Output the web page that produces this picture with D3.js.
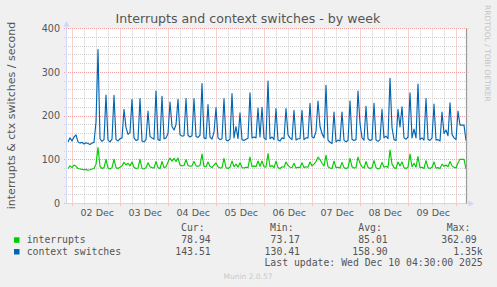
<!DOCTYPE html>
<html><head><meta charset="utf-8">
<script src="https://cdn.jsdelivr.net/npm/d3@7"></script>
<style>
html,body{margin:0;padding:0;background:#F0F0F0;}
svg{display:block;}
</style></head><body>
<svg id="chart" width="497" height="287"></svg>
<script>
// ---- data (hourly samples, first sample at Dec 1 21:45) ----
const startTime = new Date(2025, 11, 1, 21, 45);
const stepHours = 1;
const interrupts = [
80,86,82,88,85,80,79,78,77,78,76,77,79,80,90,128,85,80,82,101,
81,79,82,101,82,80,83,86,94,88,92,86,95,83,80,81,101,80,79,82,
93,84,82,81,96,82,80,96,82,84,95,104,97,103,96,104,88,86,87,100,
87,85,86,96,86,85,87,113,85,84,95,85,82,88,93,84,81,82,103,82,
80,83,97,84,90,83,93,82,81,83,82,106,84,86,84,97,85,97,84,83,
114,84,87,82,97,82,80,84,83,95,87,83,82,92,81,83,82,93,82,84,
83,95,86,90,96,106,100,92,86,110,84,81,80,97,82,83,81,94,82,80,
82,103,84,81,82,106,92,84,81,96,83,80,82,98,82,79,81,94,83,85,
82,122,90,82,80,95,86,95,82,80,83,113,84,92,83,107,82,83,80,98,
82,80,83,95,81,82,80,90,85,88,84,96,86,83,81,93,101,101,101,79
];
const contextSwitches = [
141,150,143,152,157,141,138,140,136,139,137,135,138,140,186,352,148,142,146,248,
145,141,147,247,146,143,148,150,215,174,158,162,238,150,144,146,240,143,141,146,
211,153,150,147,257,146,144,245,148,150,160,232,176,168,180,238,157,154,155,240,
156,152,155,240,153,151,156,274,150,148,226,152,147,163,219,150,146,148,240,145,
143,147,251,150,176,148,207,146,144,147,149,253,150,152,150,218,152,220,150,146,
280,148,152,146,217,145,143,150,148,217,157,150,146,213,145,148,148,213,146,150,
150,229,152,150,165,234,176,160,150,270,145,140,137,209,141,145,143,209,145,141,
144,234,147,144,146,257,183,150,145,222,148,144,146,229,145,142,146,215,150,154,
148,286,174,146,144,215,175,221,150,147,152,253,150,170,150,273,146,150,145,240,
147,144,150,227,145,146,143,209,160,168,155,230,158,150,146,211,179,179,179,143.5
];
const seriesNames = ["interrupts", "context switches"];
const seriesColors = ["#00CC00", "#0066B3"];
const xTickLabels = ["02 Dec","03 Dec","04 Dec","05 Dec","06 Dec","07 Dec","08 Dec","09 Dec"];
const yTicks = [0, 100, 200, 300, 400];
const legendHeaders = ["Cur:", "Min:", "Avg:", "Max:"];
const legendInterrupts = ["78.94", "73.17", "85.01", "362.09"];
const legendContext = ["143.51", "130.41", "158.90", "1.35k"];
const titleText = "Interrupts and context switches - by week";
const yLabelText = "interrupts & ctx switches / second";
const lastUpdateText = "Last update: Wed Dec 10 04:30:00 2025";
const footerText = "Munin 2.0.57";
const sideText = "RRDTOOL / TOBI OETIKER";

// ---- layout ----
const svg = d3.select("#chart");
const L = 66.5, R = 466.5, T = 28.5, B = 203.5;
const x = d3.scaleTime()
  .domain([new Date(2025, 11, 1, 21, 0), new Date(2025, 11, 10, 5, 0)])
  .range([L, R]);
const y = d3.scaleLinear().domain([0, 400]).range([B, T]);
const snap = v => Math.floor(v) + 0.5;

svg.append("rect").attr("x", 0).attr("y", 0).attr("width", 497).attr("height", 287).attr("fill", "#F0F0F0");
svg.append("rect").attr("x", L).attr("y", T).attr("width", R - L).attr("height", B - T).attr("fill", "#FFFFFF");

const minorC = "#CFCFCF", majorC = "#F2A0A0";
const g = svg.append("g");
// vertical grid
const minorTimes = d3.timeHour.every(6).range(x.domain()[0], x.domain()[1]);
minorTimes.forEach(t => {
  const major = t.getHours() === 0;
  const px = snap(x(t));
  g.append("line").attr("x1", px).attr("x2", px).attr("y1", T).attr("y2", B + 2.5)
    .attr("stroke", major ? majorC : minorC).attr("stroke-width", 1)
    .attr("stroke-dasharray", "1,1");
});
// horizontal grid
d3.range(0, 401, 20).forEach(v => {
  const major = v % 100 === 0;
  const py = snap(y(v));
  g.append("line").attr("x1", L - 2.5).attr("x2", R + 2).attr("y1", py).attr("y2", py)
    .attr("stroke", major ? majorC : minorC).attr("stroke-width", 1)
    .attr("stroke-dasharray", "1,1");
});

// series
const timeOf = i => new Date(startTime.getTime() + i * stepHours * 3600e3);
const line = d3.line().x((d, i) => x(timeOf(i))).y(d => y(d));
const clip = svg.append("clipPath").attr("id", "pc").append("rect")
  .attr("x", L).attr("y", T - 5).attr("width", R - L).attr("height", B - T + 5);
[interrupts, contextSwitches].forEach((arr, k) => {
  svg.append("path").datum(arr).attr("d", line)
    .attr("fill", "none").attr("stroke", seriesColors[k]).attr("stroke-width", 1.15)
    .attr("stroke-linejoin", "round").attr("clip-path", "url(#pc)");
});

// axes lines & arrows
const axisC = "#CFD6F8";
svg.append("line").attr("x1", L).attr("x2", L).attr("y1", B).attr("y2", T - 4)
  .attr("stroke", axisC).attr("stroke-width", 1);
svg.append("line").attr("x1", L).attr("x2", R + 4).attr("y1", B).attr("y2", B)
  .attr("stroke", axisC).attr("stroke-width", 1);
svg.append("path").attr("d", `M${L-3},${T-2} L${L+3},${T-2} L${L},${T-7.5} Z`).attr("fill", axisC);
svg.append("path").attr("d", `M${R+2},${B-3} L${R+2},${B+3} L${R+7.5},${B} Z`).attr("fill", axisC);
// right frame line
svg.append("line").attr("x1", R).attr("x2", R).attr("y1", T).attr("y2", B)
  .attr("stroke", "#9A9A9A").attr("stroke-width", 1.2);

// y tick labels
const fontC = "#555";
svg.append("g").selectAll("text").data(yTicks).join("text")
  .attr("x", 60).attr("y", d => y(d) + 3.4)
  .attr("text-anchor", "end").attr("font-family", "DejaVu Sans").attr("font-size", 9.6)
  .attr("fill", fontC).text(d => d);

// x tick labels (centered on noon of each day)
svg.append("g").selectAll("text").data(xTickLabels).join("text")
  .attr("x", (d, i) => x(new Date(2025, 11, 2 + i, 12, 0)) + 0.8)
  .attr("y", 216)
  .attr("text-anchor", "middle").attr("font-family", "DejaVu Sans").attr("font-size", 9.5)
  .attr("fill", fontC).text(d => d);

// title
svg.append("text").attr("x", 248).attr("y", 23).attr("text-anchor", "middle")
  .attr("font-family", "DejaVu Sans").attr("font-size", 12.6).attr("fill", "#555")
  .text(titleText);

// y label
svg.append("text").attr("transform", "translate(14.5,115.5) rotate(-90)")
  .attr("text-anchor", "middle").attr("font-family", "DejaVu Sans").attr("font-size", 11)
  .attr("fill", fontC).text(yLabelText);

// side text
svg.append("text").attr("transform", "translate(485,5) rotate(90)")
  .attr("text-anchor", "start").attr("font-family", "DejaVu Sans").attr("font-size", 7.5)
  .attr("fill", "#C4C4C4").text(sideText);

// legend
const mono = "DejaVu Sans Mono", lfs = 9.8, cw = 5.93, col0 = 26.7;
const lg = svg.append("g").attr("font-family", mono).attr("font-size", lfs).attr("fill", "#555")
  .attr("xml:space", "preserve");
const headStarts = [181, 270, 358.3, 446.7];
legendHeaders.forEach((h, i) => lg.append("text").attr("x", headStarts[i]).attr("y", 230.7).text(h));
const rowY = [243, 254.7];
const boxY = [237.3, 249];
const ends = [[210.7, 300, 387.7, 476.7], [210.7, 300, 387.7, 482.7]];
[legendInterrupts, legendContext].forEach((vals, r) => {
  svg.append("rect").attr("x", 14).attr("y", boxY[r]).attr("width", 5.5).attr("height", 5.5)
    .attr("fill", seriesColors[r]);
  lg.append("text").attr("x", col0).attr("y", rowY[r]).text(seriesNames[r]);
  vals.forEach((v, i) => lg.append("text").attr("x", ends[r][i]).attr("y", rowY[r])
    .attr("text-anchor", "end").text(v));
});
lg.append("text").attr("x", 482.7).attr("y", 266).attr("text-anchor", "end").text(lastUpdateText);

// footer
svg.append("text").attr("x", 248).attr("y", 279).attr("text-anchor", "middle")
  .attr("font-family", "DejaVu Sans").attr("font-size", 7.5).attr("fill", "#C8C8C8")
  .text(footerText);
</script>
</body></html>
